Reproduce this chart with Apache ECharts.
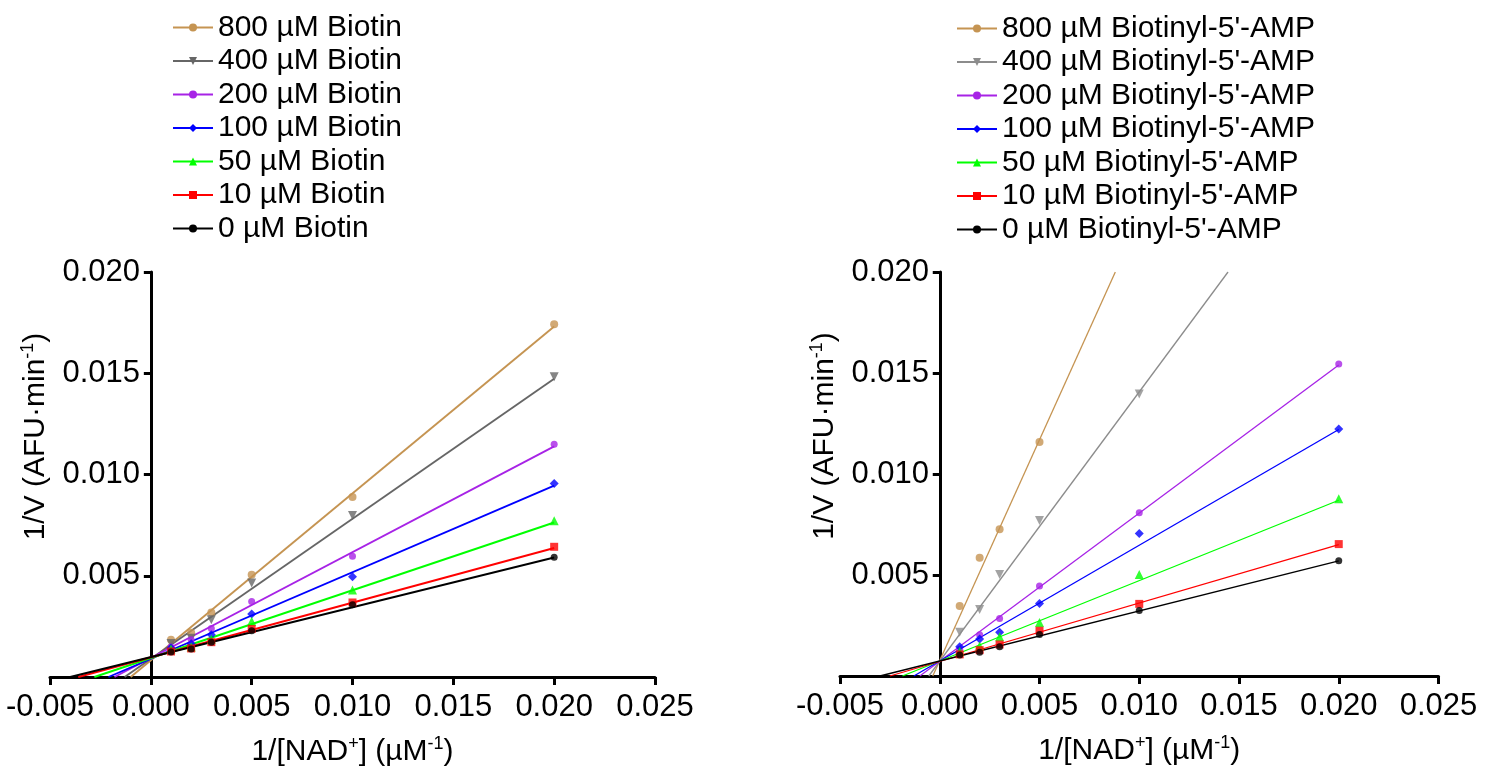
<!DOCTYPE html>
<html>
<head>
<meta charset="utf-8">
<script src="https://cdn.jsdelivr.net/npm/echarts@6/dist/echarts.min.js"></script>
<style>
html,body{margin:0;padding:0;background:#fff;}
#chart{width:1490px;height:770px;}
</style>
</head>
<body>
<div id="chart"></div>
<script>
// ---------- DATA ----------
const xValues = [0.001, 0.002, 0.003, 0.005, 0.010, 0.020];
const xTicks = [-0.005, 0.000, 0.005, 0.010, 0.015, 0.020, 0.025];
const yTicks = [0.005, 0.010, 0.015, 0.020];

const biotinNames = ['800 µM Biotin', '400 µM Biotin', '200 µM Biotin', '100 µM Biotin', '50 µM Biotin', '10 µM Biotin', '0 µM Biotin'];
const biotin800 = [0.00184, 0.00219, 0.00318, 0.00505, 0.00889, 0.01742];
const biotin400 = [0.00165, 0.00191, 0.00283, 0.00464, 0.00798, 0.01483];
const biotin200 = [0.00148, 0.00184, 0.00239, 0.00373, 0.00596, 0.01149];
const biotin100 = [0.00143, 0.00164, 0.00209, 0.00311, 0.00495, 0.00955];
const biotin50  = [0.00138, 0.00148, 0.00186, 0.00275, 0.00430, 0.00772];
const biotin10  = [0.00126, 0.00141, 0.00172, 0.00237, 0.00368, 0.00643];
const biotin0   = [0.00123, 0.00138, 0.00171, 0.00229, 0.00357, 0.00591];
// fitted lines: start on the x axis (x-intercept), end point
const biotinFitStartX = [-0.0010, -0.0013, -0.0018, -0.0021, -0.0028, -0.0036, -0.0040];
const biotinFitEndX   = [0.020, 0.020, 0.020, 0.020, 0.020, 0.020, 0.020];
const biotinFitEndY   = [0.01731, 0.01473, 0.01139, 0.00945, 0.00763, 0.00637, 0.00590];

const ampNames = ["800 µM Biotinyl-5'-AMP", "400 µM Biotinyl-5'-AMP", "200 µM Biotinyl-5'-AMP", "100 µM Biotinyl-5'-AMP", "50 µM Biotinyl-5'-AMP", "10 µM Biotinyl-5'-AMP", "0 µM Biotinyl-5'-AMP"];
const amp800 = [0.00347, 0.00585, 0.00727, 0.01159, null, null];
const amp400 = [0.00216, 0.00329, 0.00502, 0.00770, 0.01396, null];
const amp200 = [0.00133, 0.00204, 0.00285, 0.00446, 0.00808, 0.01544];
const amp100 = [0.00145, 0.00183, 0.00216, 0.00359, 0.00705, 0.01223];
const amp50  = [0.00123, 0.00148, 0.00194, 0.00265, 0.00502, 0.00877];
const amp10  = [0.00107, 0.00128, 0.00156, 0.00224, 0.00357, 0.00653];
const amp0   = [0.00104, 0.00117, 0.00145, 0.00206, 0.00324, 0.00571];
const ampFitStartX = [-0.00035, -0.00055, -0.0010, -0.0013, -0.00187, -0.0025, -0.0030];
const ampFitEndX   = [0.0088, 0.01445, 0.020, 0.020, 0.020, 0.020, 0.020];
const ampFitEndY   = [0.020, 0.020, 0.0154, 0.0122, 0.0087, 0.0065, 0.0057];

// ---------- STYLES ----------
const colorsLeft  = ['#C59452', '#666666', '#A723E6', '#0000FF', '#00FF00', '#FF0000', '#000000'];
const colorsRight = ['#C59452', '#8C8C8C', '#A723E6', '#0000FF', '#00FF00', '#FF0000', '#000000'];
const symbols = ['circle', 'triangle', 'circle', 'diamond', 'triangle', 'rect', 'circle'];
const symbolRot = [0, 180, 0, 0, 0, 0, 0];
const symbolSizes = [8, 9, 7, 9, 9, 8, 7];

const FONT = "'Liberation Sans', Arial, Helvetica, sans-serif";
const biotinSets = [biotin800, biotin400, biotin200, biotin100, biotin50, biotin10, biotin0];
const ampSets = [amp800, amp400, amp200, amp100, amp50, amp10, amp0];

function buildSeries(names, sets, fsx, fex, fey, colors, axisIdx, lw) {
  const out = [];
  names.forEach((nm, i) => {
    out.push({
      type: 'line', name: nm, xAxisIndex: axisIdx, yAxisIndex: axisIdx,
      data: [[fsx[i], 0], [fex[i], fey[i]]],
      symbol: symbols[i], symbolRotate: symbolRot[i], showSymbol: false,
      color: colors[i], lineStyle: { width: lw, color: colors[i] },
      clip: true, silent: true, z: 2
    });
  });
  names.forEach((nm, i) => {
    const pts = [];
    xValues.forEach((x, k) => { if (sets[i][k] !== null) pts.push([x, sets[i][k]]); });
    out.push({
      type: 'scatter', name: nm, xAxisIndex: axisIdx, yAxisIndex: axisIdx,
      data: pts, symbol: symbols[i], symbolRotate: symbolRot[i], symbolSize: symbolSizes[i],
      itemStyle: { color: colors[i] }, clip: true, silent: true, z: 3
    });
  });
  return out;
}

const nameRich = {
  n: { fontSize: 30, fontFamily: FONT, color: '#000', lineHeight: 34 },
  s: { fontSize: 18, fontFamily: FONT, color: '#000', verticalAlign: 'top', lineHeight: 18 }
};

function xAxisCfg(gridIndex) {
  return {
    type: 'value', gridIndex: gridIndex, min: -0.005, max: 0.025, interval: 0.005,
    name: '{n|1/[NAD}{s|+}{n|] (µM}{s|-1}{n|)}', nameLocation: 'middle', nameGap: 58,
    nameTextStyle: { rich: nameRich },
    axisLine: { onZero: false, lineStyle: { color: '#000', width: 3 } },
    axisTick: { show: true, length: 8, lineStyle: { color: '#000', width: 3 } },
    axisLabel: { fontSize: 31, fontFamily: FONT, color: '#000', margin: 15,
      formatter: v => (Math.abs(v) < 1e-12 ? 0 : v).toFixed(3) },
    splitLine: { show: false }
  };
}
// y-axis line sits at x = 0; labels/name are offset from the grid edge
function yAxisCfg(gridIndex, labelMargin, nameGap) {
  return {
    type: 'value', gridIndex: gridIndex, min: 0, max: 0.020, interval: 0.005,
    name: '{n|1/V (AFU·min}{s|-1}{n|)}', nameLocation: 'middle', nameGap: nameGap,
    nameTextStyle: { rich: nameRich, padding: [0, 0, 0, 76] },
    axisLine: { onZero: true, lineStyle: { color: '#000', width: 3 } },
    axisTick: { show: true, length: 7, lineStyle: { color: '#000', width: 3 } },
    axisLabel: { fontSize: 31, fontFamily: FONT, color: '#000', margin: labelMargin,
      formatter: v => (v < 1e-12 ? '' : v.toFixed(3)) },
    splitLine: { show: false }
  };
}

const legendBase = {
  orient: 'vertical', itemWidth: 40, itemHeight: 10, itemGap: 2.5,
  padding: 0, selectedMode: false,
  textStyle: { fontSize: 30, fontFamily: FONT, color: '#000', lineHeight: 31 }
};

const option = {
  animation: false,
  backgroundColor: '#fff',
  grid: [
    { left: 50, width: 605, top: 272, height: 405, containLabel: false, outerBoundsMode: 'none' },
    { left: 840, width: 598.5, top: 272, height: 404, containLabel: false, outerBoundsMode: 'none' }
  ],
  xAxis: [xAxisCfg(0), xAxisCfg(1)],
  yAxis: [yAxisCfg(0, -90, -3), yAxisCfg(1, -89, -2)],
  legend: [
    Object.assign({}, legendBase, { left: 172, top: 12, data: biotinNames }),
    Object.assign({}, legendBase, { left: 956, top: 13, data: ampNames })
  ],
  series: [].concat(
    buildSeries(biotinNames, biotinSets, biotinFitStartX, biotinFitEndX, biotinFitEndY, colorsLeft, 0, 1.9),
    buildSeries(ampNames, ampSets, ampFitStartX, ampFitEndX, ampFitEndY, colorsRight, 1, 1.3)
  )
};

const chart = echarts.init(document.getElementById('chart'), null, { renderer: 'canvas' });
chart.setOption(option);
</script>
</body>
</html>
